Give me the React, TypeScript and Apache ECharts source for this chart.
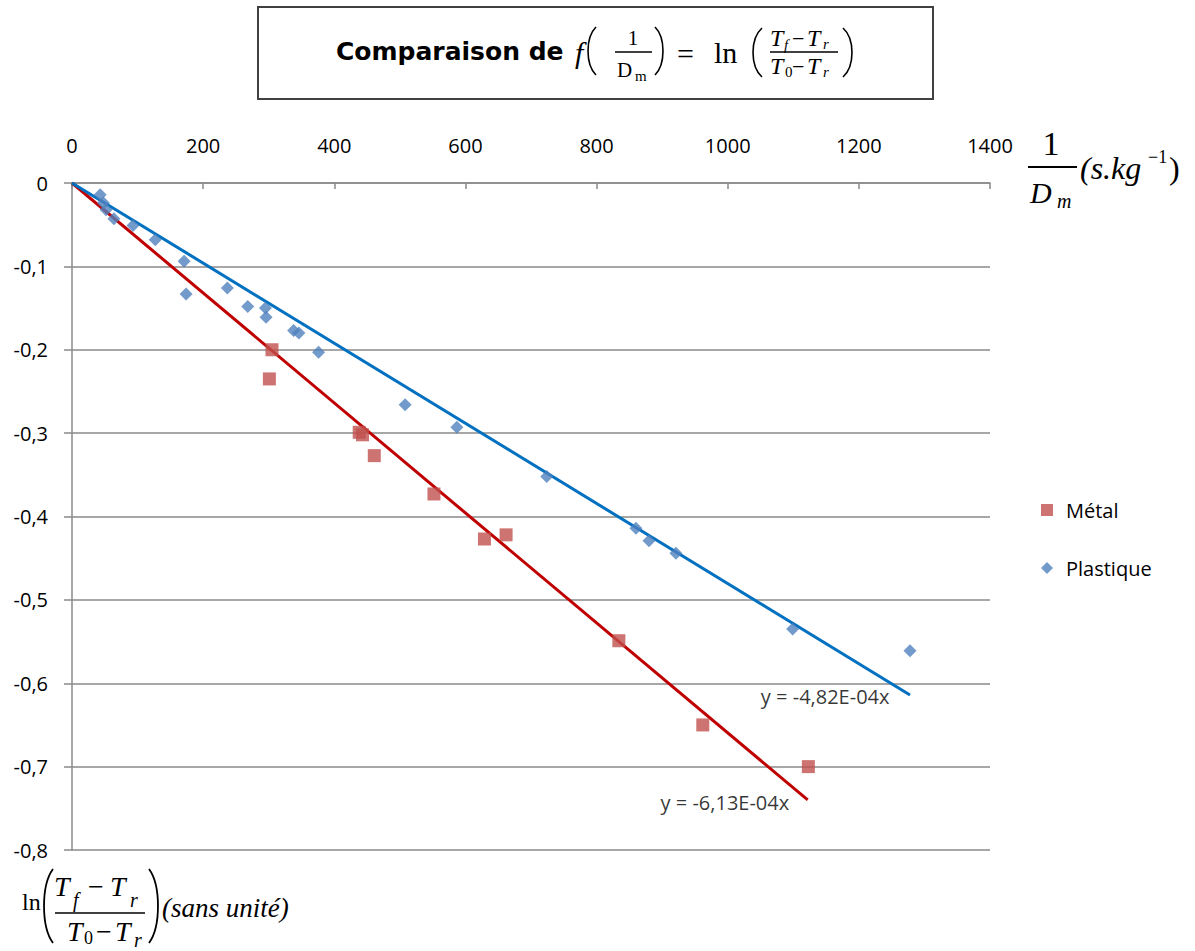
import React, { useEffect, useRef } from "react";
import * as echarts from "echarts";

const xMin = 0;
const xMax = 1400;
const xStep = 200;
const yMin = -0.8;
const yMax = 0;
const yStep = 0.1;

const seriesNames = ["Métal", "Plastique"];

const metalX = [301, 305, 438, 443, 461, 552, 629, 662, 834, 962, 1123];
const metalY = [-0.235, -0.2, -0.299, -0.302, -0.327, -0.373, -0.427, -0.422, -0.549, -0.65, -0.7];

const plasticX = [43, 48, 52, 64, 93, 127, 171, 174, 237, 268, 295, 296, 338, 346, 376, 508, 587, 724, 860, 880, 921, 1099, 1278];
const plasticY = [-0.014, -0.024, -0.032, -0.043, -0.051, -0.068, -0.094, -0.133, -0.126, -0.148, -0.15, -0.161, -0.177, -0.18, -0.203, -0.266, -0.293, -0.352, -0.414, -0.429, -0.444, -0.535, -0.561];

const trendMetalPts = [[0, 0], [1122, -0.74]];
const trendPlasticPts = [[0, 0], [1278, -0.614]];
const trendLabels = ["y = -6,13E-04x", "y = -4,82E-04x"];

const SANS = "'Open Sans', 'Noto Sans', sans-serif";
const SERIF = "'Liberation Serif', 'DejaVu Serif', serif";

function txt(text: string, x: number, y: number, size: number, o: any = {}) {
  return {
    type: "text",
    x,
    y,
    silent: true,
    style: {
      text,
      fontSize: size,
      fontFamily: o.family || SERIF,
      fontStyle: o.italic ? "italic" : "normal",
      fontWeight: o.bold ? "bold" : "normal",
      fill: "#000",
      align: o.align || "left",
      verticalAlign: "middle",
    },
  };
}
function ln(x1: number, y1: number, x2: number, y2: number, w = 1.5, c = "#000") {
  return { type: "line", silent: true, shape: { x1, y1, x2, y2 }, style: { stroke: c, lineWidth: w } };
}
// parenthesis drawn as a cubic curve; dir = -1 for "(", +1 for ")"
function paren(xEnd: number, yTop: number, yBot: number, bulge: number, dir: number, w = 1.6) {
  const h = yBot - yTop;
  const cx = xEnd + dir * bulge * 1.33;
  return {
    type: "bezierCurve",
    silent: true,
    shape: {
      x1: xEnd,
      y1: yTop,
      x2: xEnd,
      y2: yBot,
      cpx1: cx,
      cpy1: yTop + h * 0.22,
      cpx2: cx,
      cpy2: yBot - h * 0.22,
    },
    style: { stroke: "#000", lineWidth: w, fill: null },
  };
}

export default function App() {
  const ref = useRef<HTMLDivElement>(null);
  useEffect(() => {
    if (!ref.current) return;
    const chart = echarts.init(ref.current, undefined, { renderer: "svg" });
    const metalData = metalX.map((x, i) => [x, metalY[i]]);
    const plasticData = plasticX.map((x, i) => [x, plasticY[i]]);
    const gridColor = "#8a8a8a";

    const graphics: any[] = [
      {
        type: "rect",
        silent: true,
        shape: { x: 258, y: 7, width: 675, height: 92 },
        style: { fill: "#fff", stroke: "#404040", lineWidth: 2 },
      },
      txt("Comparaison de", 336, 51, 25, { family: "'DejaVu Sans', sans-serif", bold: true }),
      txt("f", 575, 52, 30, { italic: true }),
      paren(596, 27, 75, 8, -1),
      txt("1", 633, 38, 21, { align: "center" }),
      ln(615, 52, 652, 52),
      txt("D", 617, 70, 21),
      txt("m", 635, 76, 15),
      paren(655, 27, 75, 8, 1),
      txt("=", 677, 53, 30),
      txt("ln", 714, 52, 30),
      paren(762, 28, 77, 9, -1),
      txt("T", 770, 38, 24, { italic: true }),
      txt("f", 784, 45, 15, { italic: true }),
      txt("\u2212", 792, 38, 22),
      txt("T", 807, 38, 24, { italic: true }),
      txt("r", 823, 44, 15, { italic: true }),
      ln(770, 52, 838, 52),
      txt("T", 770, 66, 24, { italic: true }),
      txt("0", 785, 72, 15),
      txt("\u2212", 792, 66, 22),
      txt("T", 807, 66, 24, { italic: true }),
      txt("r", 823, 72, 15, { italic: true }),
      paren(843, 28, 77, 9, 1),

      // x-axis name
      txt("1", 1051, 143, 34, { align: "center" }),
      ln(1028, 167, 1077, 167, 2),
      txt("D", 1030, 192, 30, { italic: true }),
      txt("m", 1057, 201, 20, { italic: true }),
      txt("(s.kg", 1080, 168, 32, { italic: true }),
      txt("\u22121", 1148, 157, 18),
      txt(")", 1169, 168, 32),

      // y-axis name
      txt("ln", 22, 902, 24),
      paren(53, 869, 943, 9, -1, 1.8),
      txt("T", 54, 886, 28, { italic: true }),
      txt("f", 73, 900, 20, { italic: true }),
      txt("\u2212", 88, 886, 28),
      txt("T", 110, 886, 28, { italic: true }),
      txt("r", 130, 900, 20, { italic: true }),
      ln(55, 913, 145, 913, 1.5),
      txt("T", 67, 931, 28, { italic: true }),
      txt("0", 84, 938, 18),
      txt("\u2212", 96, 931, 28),
      txt("T", 115, 931, 28, { italic: true }),
      txt("r", 134, 940, 20, { italic: true }),
      paren(149, 869, 943, 9, 1, 1.8),
      txt("(sans unité)", 162, 908, 27, { italic: true }),
    ];

    chart.setOption({
      animation: false,
      backgroundColor: "#fff",
      grid: { left: 72, right: 205, top: 183, bottom: 101, containLabel: false },
      legend: {
        orient: "vertical",
        left: 1036,
        top: 495,
        itemWidth: 12,
        itemHeight: 12,
        itemGap: 38,
        selectedMode: false,
        data: [
          { name: seriesNames[0], icon: "rect" },
          { name: seriesNames[1], icon: "diamond" },
        ],
        textStyle: { fontSize: 20, fontFamily: SANS, color: "#000", padding: [0, 0, 0, 8] },
      },
      xAxis: {
        type: "value",
        position: "top",
        min: xMin,
        max: xMax,
        interval: xStep,
        axisLine: { show: true, lineStyle: { color: gridColor, width: 1.5 } },
        axisTick: { show: true, inside: true, length: 6, lineStyle: { color: gridColor, width: 1.5 } },
        axisLabel: {
          margin: 28,
          fontSize: 20,
          fontFamily: SANS,
          color: "#000",
          formatter: (v: number) => String(Math.round(v)),
        },
        splitLine: { show: false },
      },
      yAxis: {
        type: "value",
        min: yMin,
        max: yMax,
        interval: yStep,
        axisLine: { show: true, lineStyle: { color: gridColor, width: 1.5 } },
        axisTick: { show: true, inside: false, length: 8, lineStyle: { color: gridColor, width: 1.5 } },
        axisLabel: {
          margin: 24,
          fontSize: 20,
          fontFamily: SANS,
          color: "#000",
          formatter: (v: number) => (Math.abs(v) < 1e-9 ? "0" : v.toFixed(1).replace(".", ",")),
        },
        splitLine: { show: true, lineStyle: { color: gridColor, width: 1.5 } },
      },
      series: [
        {
          name: "trendMetal",
          type: "line",
          data: trendMetalPts,
          symbol: "none",
          lineStyle: { color: "#C00000", width: 3 },
          silent: true,
          z: 2,
        },
        {
          name: "trendPlastic",
          type: "line",
          data: trendPlasticPts,
          symbol: "none",
          lineStyle: { color: "#0070C0", width: 3 },
          silent: true,
          z: 2,
        },
        {
          name: "trendLabels",
          type: "scatter",
          symbolSize: 1,
          itemStyle: { color: "rgba(0,0,0,0)" },
          silent: true,
          z: 4,
          data: [
            { value: trendMetalPts[1], label: { show: true, position: "left", distance: 18, offset: [0, 3], formatter: trendLabels[0], fontSize: 20, fontFamily: SANS, color: "#000" } },
            { value: trendPlasticPts[1], label: { show: true, position: "left", distance: 20, offset: [0, 2], formatter: trendLabels[1], fontSize: 20, fontFamily: SANS, color: "#000" } },
          ],
        },
        {
          name: seriesNames[0],
          type: "scatter",
          symbol: "rect",
          symbolSize: 13,
          itemStyle: { color: "#C0504D" },
          data: metalData,
          z: 3,
        },
        {
          name: seriesNames[1],
          type: "scatter",
          symbol: "diamond",
          symbolSize: 13,
          itemStyle: { color: "#4F81BD" },
          data: plasticData,
          z: 3,
        },
      ],
      graphic: { elements: graphics },
    });
    return () => chart.dispose();
  }, []);
  return <div ref={ref} style={{ position: "fixed", left: 0, top: 0, width: 1195, height: 951 }} />;
}
